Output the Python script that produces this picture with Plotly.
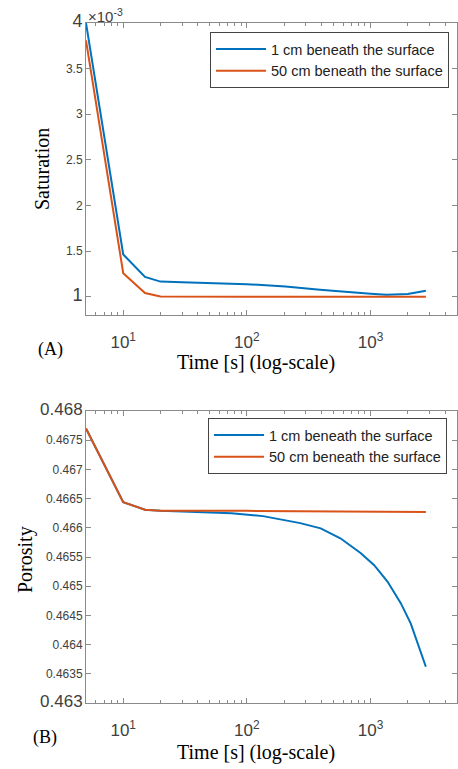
import plotly.graph_objects as go

# ---------------- data ----------------
sat_t_1cm = [5, 10, 15, 20, 30, 60, 100, 205, 390, 1000, 1340, 2000, 2800]
sat_1cm = [4.0e-3, 1.464e-3, 1.217e-3, 1.166e-3, 1.158e-3, 1.149e-3, 1.138e-3,
           1.112e-3, 1.076e-3, 1.033e-3, 1.022e-3, 1.029e-3, 1.065e-3]
sat_t_50cm = [5, 10, 15, 20, 100, 1000, 2800]
sat_50cm = [3.81e-3, 1.258e-3, 1.04e-3, 1.003e-3, 1.0e-3, 1.0e-3, 1.0e-3]

por_t_1cm = [5, 10, 15, 20, 30, 50, 75, 135, 210, 270, 395, 570, 830, 1070, 1370, 1755,
             2115, 2470, 2800]
por_1cm = [0.46770, 0.46644, 0.46631, 0.46629, 0.46628, 0.46627, 0.46625, 0.46620, 0.46613,
           0.46608, 0.46599, 0.46582, 0.46557, 0.46536, 0.46508, 0.46471, 0.46436, 0.46396, 0.46362]
por_t_50cm = [5, 10, 15, 20, 100, 1000, 2800]
por_50cm = [0.46770, 0.46644, 0.46631, 0.46629, 0.46629, 0.46628, 0.46627]

series_names = ["1 cm beneath the surface", "50 cm beneath the surface"]
colors = ["#0072BD", "#D95319"]

x_tickvals = [10, 100, 1000]
x_ticktext = ["10<sup>1</sup>", "10<sup>2</sup>", "10<sup>3</sup>"]
x_minor = [m * 10 ** e for e in range(0, 4) for m in range(2, 10) if 5 <= m * 10 ** e <= 5000]

sat_tickvals = [1.0e-3, 1.5e-3, 2.0e-3, 2.5e-3, 3.0e-3, 3.5e-3, 4.0e-3]
sat_ticktext = ['<span style="font-size:18px">1</span>', "1.5", "2", "2.5", "3", "3.5",
                '<span style="font-size:18px">4</span>']
por_tickvals = [0.463, 0.4635, 0.464, 0.4645, 0.465, 0.4655, 0.466, 0.4665, 0.467, 0.4675, 0.468]
por_ticktext = ['<span style="font-size:17px">0.463</span>', "0.4635", "0.464", "0.4645", "0.465",
                "0.4655", "0.466", "0.4665", "0.467", "0.4675",
                '<span style="font-size:17px">0.468</span>']

# ---------------- figure ----------------
W, H = 458, 769
L, R, T, B = 86, 1, 23, 66
PW, PH = W - L - R, H - T - B


def px_x(px):
    return (px - L) / PW


def px_y(py):
    return (H - B - py) / PH


fig = go.Figure()
fig.add_trace(go.Scatter(x=sat_t_1cm, y=sat_1cm, mode="lines", name=series_names[0],
                         line=dict(color=colors[0], width=2), xaxis="x", yaxis="y", legend="legend"))
fig.add_trace(go.Scatter(x=sat_t_50cm, y=sat_50cm, mode="lines", name=series_names[1],
                         line=dict(color=colors[1], width=2), xaxis="x", yaxis="y", legend="legend"))
fig.add_trace(go.Scatter(x=por_t_1cm, y=por_1cm, mode="lines", name=series_names[0],
                         line=dict(color=colors[0], width=2), xaxis="x2", yaxis="y2", legend="legend2"))
fig.add_trace(go.Scatter(x=por_t_50cm, y=por_50cm, mode="lines", name=series_names[1],
                         line=dict(color=colors[1], width=2), xaxis="x2", yaxis="y2", legend="legend2"))

axcol = "#8a8a8a"
tickfont = dict(family="Liberation Sans, Arial, sans-serif", size=12, color="#404040")
xtickfont = dict(family="Liberation Sans, Arial, sans-serif", size=17, color="#404040")

common_x = dict(type="log", range=[0.69897, 3.69897], tickmode="array", tickvals=x_tickvals,
                ticktext=x_ticktext, ticks="inside", ticklen=5, tickcolor=axcol, showline=True,
                linecolor=axcol, linewidth=1, mirror="ticks", showgrid=False, zeroline=False,
                tickfont=xtickfont, ticklabelstandoff=12,
                minor=dict(tickmode="array", tickvals=x_minor, ticks="inside", ticklen=3,
                           tickcolor=axcol, showgrid=False))
common_y = dict(tickmode="array", ticks="inside", ticklen=5, tickcolor=axcol, showline=True,
                linecolor=axcol, linewidth=1, mirror="ticks", showgrid=False, zeroline=False,
                tickfont=tickfont)

legfont = dict(family="Liberation Sans, Arial, sans-serif", size=14.5, color="#222")
fig.update_layout(
    width=W, height=H,
    margin=dict(l=L, r=R, t=T, b=B),
    paper_bgcolor="white", plot_bgcolor="white",
    xaxis=dict(common_x, domain=[0, 1], anchor="y"),
    yaxis=dict(common_y, domain=[px_y(315), 1], anchor="x", range=[0.8e-3, 4.0e-3],
               tickvals=sat_tickvals, ticktext=sat_ticktext),
    xaxis2=dict(common_x, domain=[0, 1], anchor="y2"),
    yaxis2=dict(common_y, domain=[0, px_y(411)], anchor="x2", range=[0.463, 0.468],
                tickvals=por_tickvals, ticktext=por_ticktext),
    legend=dict(x=px_x(210), y=px_y(32), xanchor="left", yanchor="top", bgcolor="white",
                bordercolor="#444", borderwidth=1, itemwidth=50, tracegroupgap=0, font=legfont),
    legend2=dict(x=px_x(208), y=px_y(418), xanchor="left", yanchor="top", bgcolor="white",
                 bordercolor="#444", borderwidth=1, itemwidth=50, tracegroupgap=0, font=legfont),
    showlegend=True,
)

serif = "Liberation Serif, Times New Roman, serif"
ann = [
    dict(text="×10<sup>-3</sup>", x=px_x(86), y=px_y(15), xanchor="left", yanchor="middle",
         font=dict(family="Liberation Sans, Arial, sans-serif", size=15, color="#404040")),
    dict(text="Saturation", x=px_x(42), y=px_y(169), textangle=-90, xanchor="center", yanchor="middle",
         font=dict(family=serif, size=20, color="black")),
    dict(text="Time [s] (log-scale)", x=px_x(256), y=px_y(362), xanchor="center", yanchor="middle",
         font=dict(family=serif, size=20, color="black")),
    dict(text="(A)", x=px_x(50), y=px_y(350), xanchor="center", yanchor="middle",
         font=dict(family=serif, size=18, color="black")),
    dict(text="Porosity", x=px_x(25), y=px_y(560), textangle=-90, xanchor="center", yanchor="middle",
         font=dict(family=serif, size=20, color="black")),
    dict(text="Time [s] (log-scale)", x=px_x(256), y=px_y(752), xanchor="center", yanchor="middle",
         font=dict(family=serif, size=20, color="black")),
    dict(text="(B)", x=px_x(45), y=px_y(737), xanchor="center", yanchor="middle",
         font=dict(family=serif, size=18, color="black")),
]
for a in ann:
    a.update(xref="paper", yref="paper", showarrow=False)
fig.update_layout(annotations=ann)

fig.write_html("out.html", post_script="document.body.style.margin='0px';",
               config={"displayModeBar": False})
